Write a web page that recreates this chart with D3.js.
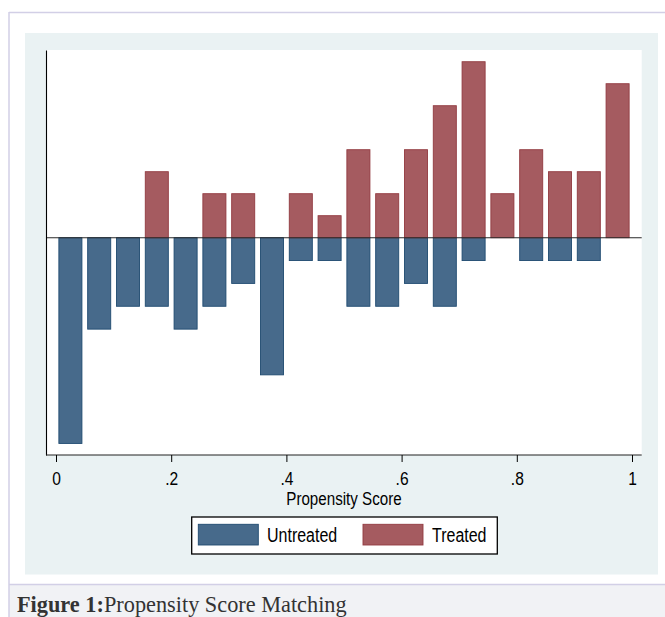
<!DOCTYPE html>
<html><head><meta charset="utf-8">
<script src="https://cdn.jsdelivr.net/npm/d3@7/dist/d3.min.js"></script>
<style>body{margin:0;background:#fff}svg{display:block}</style>
</head><body>
<svg id="c" width="665" height="617"></svg>
<script>
// Propensity score bins (centres) and counts per group
const binMids = [0.025,0.075,0.125,0.175,0.225,0.275,0.325,0.375,0.425,0.475,
                 0.525,0.575,0.625,0.675,0.725,0.775,0.825,0.875,0.925,0.975];
const untreatedCounts = [9,4,3,3,4,3,2,6,1,1,3,3,2,3,1,0,1,1,1,0];
const treatedCounts   = [0,0,0,3,0,2,2,0,2,1,4,2,4,6,8,2,4,3,3,7];
const xTickValues = [0,0.2,0.4,0.6,0.8,1];
const xTickLabels = ["0",".2",".4",".6",".8","1"];
const seriesNames = ["Untreated","Treated"];
const xTitle = "Propensity Score";
const captionBold = "Figure 1:";
const captionText = "Propensity Score Matching";

const uTot = d3.sum(untreatedCounts), tTot = d3.sum(treatedCounts);
const untreated = untreatedCounts.map(c => c / uTot);
const treated = treatedCounts.map(c => c / tTot);
const barWidth = 0.04;

const svg = d3.select("#c");
const SANS = "'Liberation Sans',Arial,sans-serif";
const SQ = 0.82; // horizontal condensation (Arial Narrow look)

function narrow(parent, cx, cy, anchor, size, str){
  return parent.append("text").attr("transform",`translate(${cx},${cy}) scale(${SQ},1)`)
    .attr("x",0).attr("y",0).attr("text-anchor",anchor)
    .style("font-family",SANS).style("font-size",size+"px").attr("fill","#000").text(str);
}

// page frame
svg.append("rect").attr("x",9).attr("y",584.5).attr("width",656).attr("height",33).attr("fill","#f1f2f5");
svg.append("line").attr("x1",9).attr("x2",665).attr("y1",12.5).attr("y2",12.5).attr("stroke","#d2cfe6").attr("stroke-width",1.5);
svg.append("line").attr("x1",9).attr("x2",9).attr("y1",12).attr("y2",617).attr("stroke","#d2cfe6").attr("stroke-width",1.5);
svg.append("line").attr("x1",9).attr("x2",665).attr("y1",584.5).attr("y2",584.5).attr("stroke","#d2cfe6").attr("stroke-width",1.5);

// graph panel
svg.append("rect").attr("x",25).attr("y",33).attr("width",633).attr("height",541.5).attr("fill","#eaf2f3");
svg.append("rect").attr("x",46).attr("y",50).attr("width",595.7).attr("height",405).attr("fill","#ffffff");

const x = d3.scaleLinear().domain([0,1]).range([56,632]);
const y = d3.scaleLinear().domain([-0.1864,0.161]).range([455,50]);

const colors = {u:{fill:"#476a8b",stroke:"#1f4a70"}, t:{fill:"#a55b60",stroke:"#923a40"}};

// Untreated (below zero)
svg.append("g").selectAll("rect").data(untreated.map((v,i)=>({v,m:binMids[i]})).filter(d=>d.v>0))
  .join("rect")
  .attr("x",d=>x(d.m-barWidth/2)).attr("width",d=>x(d.m+barWidth/2)-x(d.m-barWidth/2))
  .attr("y",y(0)).attr("height",d=>y(-d.v)-y(0))
  .attr("fill",colors.u.fill).attr("stroke",colors.u.stroke).attr("stroke-width",0.9);

// Treated (above zero)
svg.append("g").selectAll("rect").data(treated.map((v,i)=>({v,m:binMids[i]})).filter(d=>d.v>0))
  .join("rect")
  .attr("x",d=>x(d.m-barWidth/2)).attr("width",d=>x(d.m+barWidth/2)-x(d.m-barWidth/2))
  .attr("y",d=>y(d.v)).attr("height",d=>y(0)-y(d.v))
  .attr("fill",colors.t.fill).attr("stroke",colors.t.stroke).attr("stroke-width",0.9);

// zero line
svg.append("line").attr("x1",46).attr("x2",641.7).attr("y1",y(0)).attr("y2",y(0))
  .attr("stroke","#2a2a2a").attr("stroke-width",1.1);

// y axis (no ticks)
const yAx = svg.append("g").attr("transform","translate(46,0)")
  .call(d3.axisLeft(y).tickValues([]).tickSizeOuter(0));
yAx.select(".domain").attr("stroke","#000").attr("stroke-width",1.1);

// x axis
svg.append("line").attr("x1",46).attr("x2",641.7).attr("y1",455).attr("y2",455).attr("stroke","#222").attr("stroke-width",1.1);
const xAx = svg.append("g").attr("transform","translate(0,455)")
  .call(d3.axisBottom(x).tickValues(xTickValues).tickFormat((d,i)=>xTickLabels[i]).tickSize(7));
xAx.select(".domain").remove();
xAx.selectAll(".tick line").attr("stroke","#000").attr("stroke-width",1);
xAx.selectAll(".tick text").attr("x",0).attr("y",0).attr("dy",0)
  .attr("transform",`translate(0,30) scale(${SQ},1)`).attr("fill","#000")
  .style("font-family",SANS).style("font-size","19px");

narrow(svg,(x(0)+x(1))/2,504.5,"middle",18.5,xTitle);

// legend
const lg = svg.append("g");
lg.append("rect").attr("x",191.7).attr("y",517).attr("width",305.6).attr("height",37)
  .attr("fill","#fff").attr("stroke","#000").attr("stroke-width",1.3);
const legendItems = [{n:seriesNames[0],c:colors.u,sx:198.3,tx:267},{n:seriesNames[1],c:colors.t,sx:363,tx:432}];
legendItems.forEach(it=>{
  lg.append("rect").attr("x",it.sx).attr("y",524.3).attr("width",60).attr("height",20.7)
    .attr("fill",it.c.fill).attr("stroke",it.c.stroke).attr("stroke-width",0.9);
  narrow(lg,it.tx,542.3,"start",19.5,it.n);
});

// caption
const cap = svg.append("text").attr("x",17).attr("y",611.5).attr("fill","#333")
  .style("font-family","'Liberation Serif','Times New Roman',serif").style("font-size","22.3px");
cap.append("tspan").attr("font-weight","bold").text(captionBold);
cap.append("tspan").text(captionText);
</script>
</body></html>
